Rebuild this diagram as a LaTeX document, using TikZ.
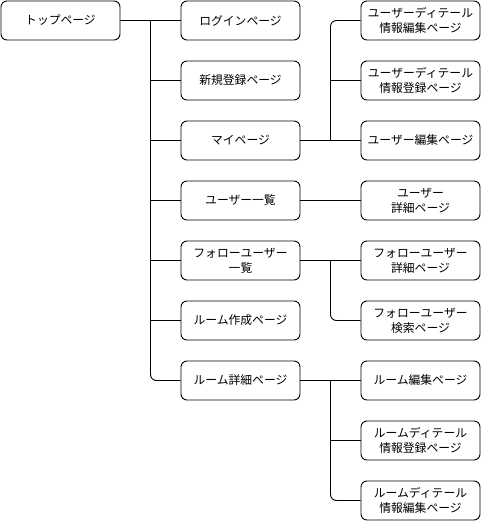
\documentclass[tikz,border=0pt]{standalone}
\usepackage{fontspec}
\setmainfont{Noto Sans CJK JP}
\usetikzlibrary{calc}

\begin{document}
\begin{tikzpicture}[x=1pt, y=-1pt,
  page/.style = {draw, line width=0.9pt, rounded corners=6pt, minimum width=119pt,
    minimum height=39pt, align=center, inner sep=0pt,
    font=\fontsize{11.8}{15}\selectfont},
  link/.style = {line width=0.9pt},
  elbow/.style = {line width=0.9pt, rounded corners=6pt}]
            \useasboundingbox (0,0) rectangle (481,521);

            \node[page] (top) at (60.5,20.5) {トップページ};

            \node[page] (login) at (240.5,20.5) {ログインページ};
            \node[page] (signup) at (240.5,80.5) {新規登録ページ};
            \node[page] (mypage) at (240.5,140.5) {マイページ};
            \node[page] (userlist) at (240.5,200.5) {ユーザー一覧};
            \node[page] (followlist) at (240.5,260.5) {フォローユーザー\\一覧};
            \node[page] (roomcreate) at (240.5,320.5) {ルーム作成ページ};
            \node[page] (roomdetail) at (240.5,380.5) {ルーム詳細ページ};

            \node[page] (infoedit) at (420.5,20.5) {ユーザーディテール\\情報編集ページ};
            \node[page] (inforeg) at (420.5,80.5) {ユーザーディテール\\情報登録ページ};
            \node[page] (useredit) at (420.5,140.5) {ユーザー編集ページ};
            \node[page] (userdetail) at (420.5,200.5) {ユーザー\\詳細ページ};
            \node[page] (followdetail) at (420.5,260.5) {フォローユーザー\\詳細ページ};
            \node[page] (followsearch) at (420.5,320.5) {フォローユーザー\\検索ページ};
            \node[page] (roomedit) at (420.5,380.5) {ルーム編集ページ};
            \node[page] (roominforeg) at (420.5,440.5) {ルームディテール\\情報登録ページ};
            \node[page] (roominfoedit) at (420.5,500.5) {ルームディテール\\情報編集ページ};

            % trunk from the top page
            \coordinate (jtop) at ($(top.east)!0.5!(login.west)$);
            \draw[link] (top.east) -- (login.west);
            \draw[elbow] (jtop) |- (roomdetail.west);
            \foreach \p in {signup, mypage, userlist, followlist, roomcreate}
                \draw[link] (jtop |- \p.west) -- (\p.west);

            % my page
            \coordinate (jmy) at ($(mypage.east)!0.5!(useredit.west)$);
            \draw[link] (mypage.east) -- (useredit.west);
            \draw[elbow] (jmy) |- (infoedit.west);
            \draw[link] (jmy |- inforeg.west) -- (inforeg.west);

            \draw[link] (userlist.east) -- (userdetail.west);

            % follow users
            \coordinate (jfollow) at ($(followlist.east)!0.5!(followdetail.west)$);
            \draw[link] (followlist.east) -- (followdetail.west);
            \draw[elbow] (jfollow) |- (followsearch.west);

            % room detail
            \coordinate (jroom) at ($(roomdetail.east)!0.5!(roomedit.west)$);
            \draw[link] (roomdetail.east) -- (roomedit.west);
            \draw[elbow] (jroom) |- (roominfoedit.west);
            \draw[link] (jroom |- roominforeg.west) -- (roominforeg.west);
        \end{tikzpicture}
\end{document}
